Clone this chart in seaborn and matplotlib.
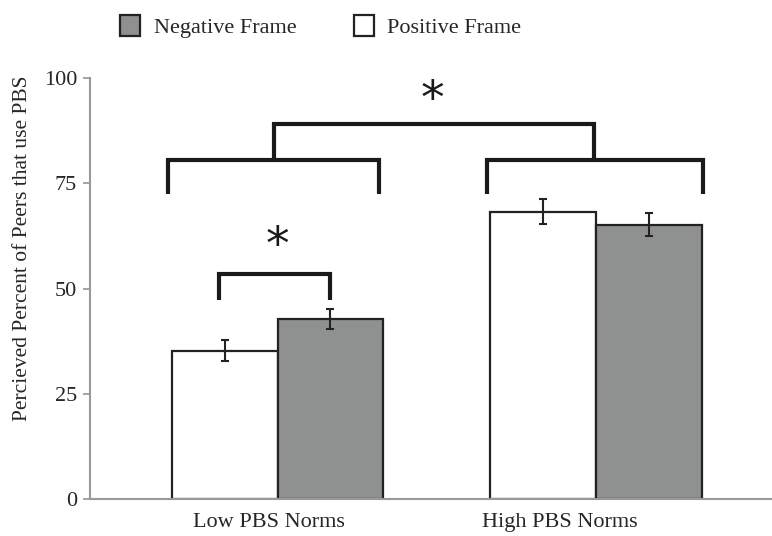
import pandas as pd
import numpy as np
import seaborn as sns
import matplotlib.pyplot as plt
from matplotlib.patches import Patch
from matplotlib.transforms import ScaledTranslation

# dane
norms = ["Low PBS Norms", "High PBS Norms"]
frames = ["Positive Frame", "Negative Frame"]
positive_means = [35.2, 68.3]
negative_means = [42.7, 65.2]
positive_err = [2.5, 2.9]
negative_err = [2.4, 2.7]

sns.set_theme(style="white")
plt.rcParams["font.family"] = ["Liberation Serif", "DejaVu Serif"]

df = pd.DataFrame({
    "norm": norms * 2,
    "frame": [frames[0]] * 2 + [frames[1]] * 2,
    "value": positive_means + negative_means,
    "err": positive_err + negative_err,
})

colors = {"Positive Frame": "#ffffff", "Negative Frame": "#8f9090"}

fig = plt.figure(figsize=(7.72, 5.36), dpi=100)
ax = fig.add_axes([0.116, 0.069, 0.884, 0.785])

sns.barplot(data=df, x="norm", y="value", hue="frame", order=norms, hue_order=frames,
            palette=colors, edgecolor="#222222", linewidth=1.6, width=0.665,
            errorbar=None, legend=False, ax=ax)

# słupki błędów wg środków prostokątów
for cont, fr in zip(ax.containers, frames):
    sub = df[df["frame"] == fr].set_index("norm").loc[norms]
    xs = [p.get_x() + p.get_width() / 2 for p in cont.patches]
    ax.errorbar(xs, sub["value"], yerr=sub["err"], fmt="none", ecolor="#222222",
                elinewidth=1.5, capsize=3, capthick=1.5)

ax.set_xlim(-0.59, 1.552)
ax.set_ylim(0, 100)
ax.set_yticks([0, 25, 50, 75, 100])
ax.tick_params(axis="y", left=True, length=5, color="#999999", labelsize=16, pad=4)
ax.tick_params(axis="x", bottom=False, labelsize=16, pad=4)
ax.set_xlabel("")
ax.set_ylabel("Percieved Percent of Peers that use PBS", fontsize=15.5)
ax.yaxis.set_label_coords(-0.084, 0.596)
for s in ["top", "right"]:
    ax.spines[s].set_visible(False)
for s in ["left", "bottom"]:
    ax.spines[s].set_color("#999999")
    ax.spines[s].set_linewidth(1.5)

# etykiety osi X przesunięte w lewo jak w oryginale
for lab, dx in zip(ax.get_xticklabels(), [-9, -36]):
    lab.set_transform(lab.get_transform() + ScaledTranslation(dx / 100, 0, fig.dpi_scale_trans))


def bracket(x0, x1, y, yleg):
    ax.plot([x0, x0, x1, x1], [yleg, y, y, yleg], color="#1a1a1a", lw=3,
            solid_capstyle="butt", solid_joinstyle="miter", clip_on=False)


bracket(-0.185, 0.166, 53.4, 47.3)
bracket(-0.345, 0.317, 80.5, 72.4)
bracket(0.658, 1.335, 80.5, 72.4)
bracket(-0.01, 0.993, 89.1, 80.5)
ax.text(0.0, 59.9, "*", fontsize=34, family="DejaVu Sans", ha="center", va="center", color="#1a1a1a")
ax.text(0.487, 94.8, "*", fontsize=34, family="DejaVu Sans", ha="center", va="center", color="#1a1a1a")

handles = [Patch(facecolor=colors["Negative Frame"], edgecolor="#222222", lw=1.6),
           Patch(facecolor=colors["Positive Frame"], edgecolor="#222222", lw=1.6)]
fig.legend(handles, ["Negative Frame", "Positive Frame"], loc="upper left",
           bbox_to_anchor=(0.13, 1.01), ncol=2, frameon=False, fontsize=16,
           handlelength=0.9, handleheight=1.1, handletextpad=0.6, columnspacing=2.6)

fig.savefig("out.png", dpi=100)
